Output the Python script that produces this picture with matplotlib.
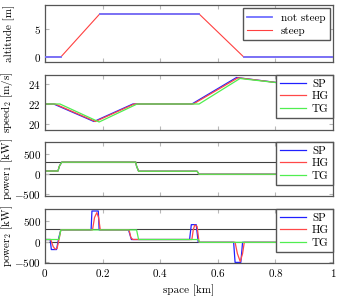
import numpy as np
import matplotlib
matplotlib.use('Agg')
import matplotlib.pyplot as plt
from matplotlib.ticker import FuncFormatter

plt.rcParams['font.family'] = 'cmr10'
plt.rcParams['mathtext.fontset'] = 'cm'
plt.rcParams['axes.formatter.use_mathtext'] = True
plt.rcParams['font.size'] = 8

# altitude profile
alt_x = [0, 0.055, 0.19, 0.535, 0.69, 1.0]
alt_y = [0, 0, 7.7, 7.7, 0, 0]

# speed
sp_x = [0, 0.03, 0.17, 0.305, 0.51, 0.665, 1.0]
sp_y = [22, 22, 20.25, 22, 22, 24.65, 23.45]
hg_x = [0, 0.035, 0.175, 0.31, 0.515, 0.67, 1.0]
hg_y = [22, 22, 20.25, 22, 22, 24.62, 23.45]
tg_x = [0, 0.052, 0.188, 0.32, 0.535, 0.677, 1.0]
tg_y = [22, 22, 20.2, 22, 22, 24.55, 23.5]

# power 1 (all three coincide)
p1_x = [0, 0.045, 0.05, 0.058, 0.315, 0.318, 0.325, 0.528, 0.535, 1.0]
p1_y = [80, 80, 200, 300, 300, 200, 75, 75, 0, 0]

# power 2
p2_sp_x = [0, 0.018, 0.022, 0.04, 0.048, 0.055, 0.16, 0.163, 0.185, 0.188, 0.29, 0.3,
           0.502, 0.508, 0.525, 0.532, 0.655, 0.66, 0.68, 0.686, 1.0]
p2_sp_y = [50, 50, -200, -200, 100, 290, 290, 760, 760, 290, 290, 50,
           50, 420, 420, -20, -20, -520, -520, -20, -20]
p2_hg_x = [0, 0.02, 0.028, 0.035, 0.042, 0.05, 0.055, 0.165, 0.172, 0.18, 0.186, 0.192,
           0.292, 0.298, 0.305, 0.51, 0.515, 0.52, 0.528, 0.535,
           0.66, 0.668, 0.678, 0.686, 0.692, 1.0]
p2_hg_y = [50, 50, -120, -190, -170, 100, 290, 290, 600, 720, 600, 290,
           290, 100, 50, 50, 300, 410, 380, -20,
           -20, -300, -500, -300, -20, -20]
p2_tg_x = [0, 0.048, 0.055, 0.318, 0.325, 0.532, 0.537, 1.0]
p2_tg_y = [50, 50, 290, 290, 50, 50, -20, -20]

power_limits = [0, 300]

c_sp = '#2020ff'
c_hg = '#ff4848'
c_tg = '#50ee50'
frame = '#555555'

fig = plt.figure(figsize=(3.41, 3.02), dpi=100)
L, W = 45 / 341, 288 / 341
rows = [(5, 62), (75, 130), (142, 196), (209, 263)]
axes = [fig.add_axes([L, 1 - b / 302, W, (b - t) / 302]) for t, b in rows]

fmt = FuncFormatter(lambda v, p: f'${v:g}$')
for ax in axes:
    ax.set_xlim(0, 1)
    ax.set_xticks([0, 0.2, 0.4, 0.6, 0.8, 1.0])
    ax.tick_params(direction='in', length=3, color='#b8b8b8', top=True, right=True,
                   labelsize=8, pad=3)
    for s in ax.spines.values():
        s.set_color(frame)
        s.set_linewidth(0.9)
    ax.xaxis.set_major_formatter(fmt)
    ax.yaxis.set_major_formatter(fmt)
    ax.yaxis.set_label_coords(-0.105, 0.5)
for ax in axes[:-1]:
    ax.tick_params(labelbottom=False)

leg_kw = dict(frameon=True, fancybox=False, framealpha=1, edgecolor=frame,
              fontsize=8)

# altitude
ax = axes[0]
ax.plot(alt_x, alt_y, color='#ff4040', lw=0.8, label='steep', zorder=2)
first = True
for i in range(len(alt_x) - 1):
    if alt_y[i] == alt_y[i + 1]:
        ax.plot(alt_x[i:i + 2], alt_y[i:i + 2], color='#7070ff', lw=1.3, zorder=3,
                label='not steep' if first else None)
        first = False
ax.set_ylim(-0.9, 9.3)
ax.set_yticks([0, 5])
ax.set_ylabel('altitude [m]')
h, l = ax.get_legend_handles_labels()
ax.legend(h[::-1], l[::-1], loc='upper right', borderaxespad=0.3, labelspacing=0.3,
          borderpad=0.4, handlelength=2.2, **leg_kw)

small_leg = dict(loc='upper right', borderaxespad=0, labelspacing=0.26, borderpad=0.35,
                 handlelength=2.4, handletextpad=0.5)

# speed
ax = axes[1]
ax.plot(sp_x, sp_y, color=c_sp, lw=0.9, label='SP')
ax.plot(hg_x, hg_y, color=c_hg, lw=0.9, label='HG')
ax.plot(tg_x, tg_y, color=c_tg, lw=0.9, label='TG')
ax.set_ylim(19.4, 24.9)
ax.set_yticks([20, 22, 24])
ax.set_ylabel('speed$_2$ [m/s]')
ax.legend(**small_leg, **leg_kw)

# power 1
ax = axes[2]
for y in power_limits:
    ax.axhline(y, color='#404040', lw=0.8, zorder=1)
ax.plot(p1_x, p1_y, color=c_sp, lw=0.9, label='SP')
ax.plot(p1_x, p1_y, color=c_hg, lw=0.9, label='HG')
ax.plot(p1_x, p1_y, color=c_tg, lw=0.9, label='TG')
ax.set_ylim(-540, 800)
ax.set_yticks([-500, 0, 500])
ax.set_ylabel('power$_1$ [kW]')
ax.legend(**small_leg, **leg_kw)

# power 2
ax = axes[3]
for y in power_limits:
    ax.axhline(y, color='#404040', lw=0.8, zorder=1)
ax.plot(p2_sp_x, p2_sp_y, color=c_sp, lw=0.9, label='SP')
ax.plot(p2_hg_x, p2_hg_y, color=c_hg, lw=0.9, label='HG')
ax.plot(p2_tg_x, p2_tg_y, color=c_tg, lw=0.9, label='TG')
ax.set_ylim(-535, 810)
ax.set_yticks([-500, 0, 500])
ax.set_ylabel('power$_2$ [kW]')
ax.set_xlabel('space [km]')
ax.legend(**small_leg, **leg_kw)

fig.savefig('out.png', dpi=100)
